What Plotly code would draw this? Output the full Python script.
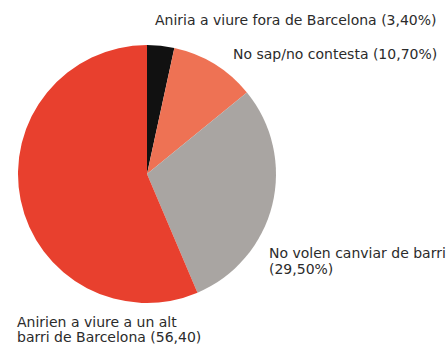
import plotly.graph_objects as go

# Survey answers: where residents would move
categories = [
    "Aniria a viure fora de Barcelona",
    "No sap/no contesta",
    "No volen canviar de barri",
    "Anirien a viure a un alt barri de Barcelona",
]
values = [3.40, 10.70, 29.50, 56.40]
label_lines = [
    ["Aniria a viure fora de Barcelona (3,40%)"],
    ["No sap/no contesta (10,70%)"],
    ["No volen canviar de barri", "(29,50%)"],
    ["Anirien a viure a un alt", "barri de Barcelona (56,40)"],
]
colors = ["#111111", "#ee7254", "#a9a5a2", "#e8402e"]

W, H = 448, 350

fig = go.Figure(
    go.Pie(
        labels=categories,
        values=values,
        sort=False,
        direction="clockwise",
        rotation=0,
        marker=dict(colors=colors, line=dict(width=0)),
        textinfo="none",
        hoverinfo="label+percent",
        domain=dict(x=[15 / W, 279 / W], y=[1 - 303 / H, 1 - 45 / H]),
    )
)

font = dict(family="DejaVu Sans", size=14, color="#2b2b2b")
# label placement: (x, first-line y, line step, xanchor)
placements = [
    (439, 20, 0, "right"),
    (439, 54, 0, "right"),
    (267, 253, 16, "left"),
    (15, 322, 15, "left"),
]
for lines, (x, y, step, xa) in zip(label_lines, placements):
    for i, line in enumerate(lines):
        fig.add_annotation(
            x=x / W, y=1 - (y + i * step) / H, xref="paper", yref="paper",
            text=line, showarrow=False, xanchor=xa, yanchor="middle",
            font=font,
        )

fig.update_layout(
    width=W, height=H,
    margin=dict(l=0, r=0, t=0, b=0),
    paper_bgcolor="white",
    plot_bgcolor="white",
    showlegend=False,
)

fig.write_html("out.html")
